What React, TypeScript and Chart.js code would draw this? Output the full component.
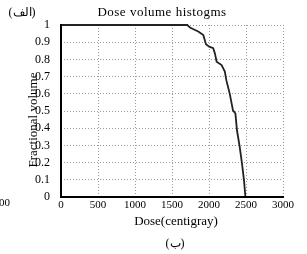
import React, { useEffect, useRef } from "react";
import { Chart, registerables } from "chart.js";

Chart.register(...registerables);

const doses = [0, 1707, 1743, 1811, 1855, 1923, 1959, 2003, 2057, 2080, 2103, 2170, 2214, 2235, 2280, 2324, 2357, 2378, 2415, 2446, 2473, 2492];
const fractions = [1, 1, 0.985, 0.971, 0.962, 0.942, 0.888, 0.874, 0.865, 0.835, 0.787, 0.767, 0.729, 0.678, 0.601, 0.504, 0.485, 0.388, 0.291, 0.194, 0.097, 0];

const chartTitle = "Dose volume histogms";
const xTitle = "Dose(centigray)";
const yTitle = "Fractional volume";
const topCaption = "(الف)";
const bottomCaption = "(ب)";
const strayLabel = "00";

const SERIF = "'Liberation Serif', 'Times New Roman', serif";

const overlay = {
  id: "overlay",
  afterDraw(chart: any) {
    const ctx = chart.ctx;
    const a = chart.chartArea;
    ctx.save();
    // axes
    ctx.strokeStyle = "#000";
    ctx.lineWidth = 2;
    ctx.beginPath();
    ctx.moveTo(a.left, a.top - 1);
    ctx.lineTo(a.left, a.bottom);
    ctx.lineTo(a.right + 1, a.bottom);
    ctx.stroke();
    ctx.fillStyle = "#000";
    // title
    ctx.font = "13px " + SERIF;
    ctx.textAlign = "center";
    ctx.textBaseline = "middle";
    (ctx as any).letterSpacing = "0.5px";
    ctx.fillText(chartTitle, 162, 13);
    (ctx as any).letterSpacing = "0px";
    // x title
    ctx.font = "13px " + SERIF;
    ctx.fillText(xTitle, 176, 222);
    ctx.font = "12px " + SERIF;
    ctx.fillText(bottomCaption, 175, 244);
    ctx.fillText(topCaption, 22, 13);
    ctx.font = "11px " + SERIF;
    ctx.textAlign = "left";
    ctx.fillText(strayLabel, -1, 203);
    // y title
    ctx.translate(34, 120);
    ctx.rotate(-Math.PI / 2);
    ctx.textAlign = "center";
    ctx.font = "13px " + SERIF;
    ctx.fillText(yTitle, 0, 0);
    ctx.restore();
  },
};

export default function App() {
  const ref = useRef<HTMLCanvasElement>(null);
  useEffect(() => {
    document.body.style.margin = "0";
    const canvas = ref.current!;
    const chart = new Chart(canvas, {
      type: "line",
      data: {
        datasets: [
          {
            data: doses.map((d, i) => ({ x: d, y: fractions[i] })),
            borderColor: "#222",
            borderWidth: 1.8,
            pointRadius: 0,
            tension: 0,
            fill: false,
            clip: false as any,
          },
        ],
      },
      options: {
        animation: false,
        responsive: false,
        devicePixelRatio: 1,
        layout: { padding: { left: 0, right: 24, top: 25, bottom: 0 } },
        plugins: { legend: { display: false }, title: { display: false }, tooltip: { enabled: false } },
        scales: {
          x: {
            type: "linear",
            min: 0,
            max: 3000,
            ticks: {
              stepSize: 500,
              padding: 2,
              autoSkip: false,
              color: "#000",
              font: { family: SERIF, size: 11 },
              maxRotation: 0,
              callback: (v: any) => String(v),
            },
            grid: { color: "#9a9a9a", lineWidth: 1, drawTicks: false },
            border: { display: false, dash: [1, 2] },
            afterFit: (s: any) => {
              s.height = 57;
            },
          },
          y: {
            type: "linear",
            min: 0,
            max: 1,
            ticks: {
              stepSize: 0.1,
              padding: 11,
              autoSkip: false,
              color: "#000",
              font: { family: SERIF, size: 12 },
              callback: (v: any) => (v === 0 ? "0" : v === 1 ? "1" : Number(v).toFixed(1)),
            },
            grid: { color: "#9a9a9a", lineWidth: 1, drawTicks: false },
            border: { display: false, dash: [1, 2] },
            afterFit: (s: any) => {
              s.width = 61;
            },
          },
        },
      },
      plugins: [overlay],
    });
    return () => chart.destroy();
  }, []);
  return (
    <div style={{ position: "relative", width: 307, height: 254, background: "#fff" }}>
      <canvas ref={ref} width={307} height={254} style={{ display: "block", width: 307, height: 254 }} />
    </div>
  );
}
